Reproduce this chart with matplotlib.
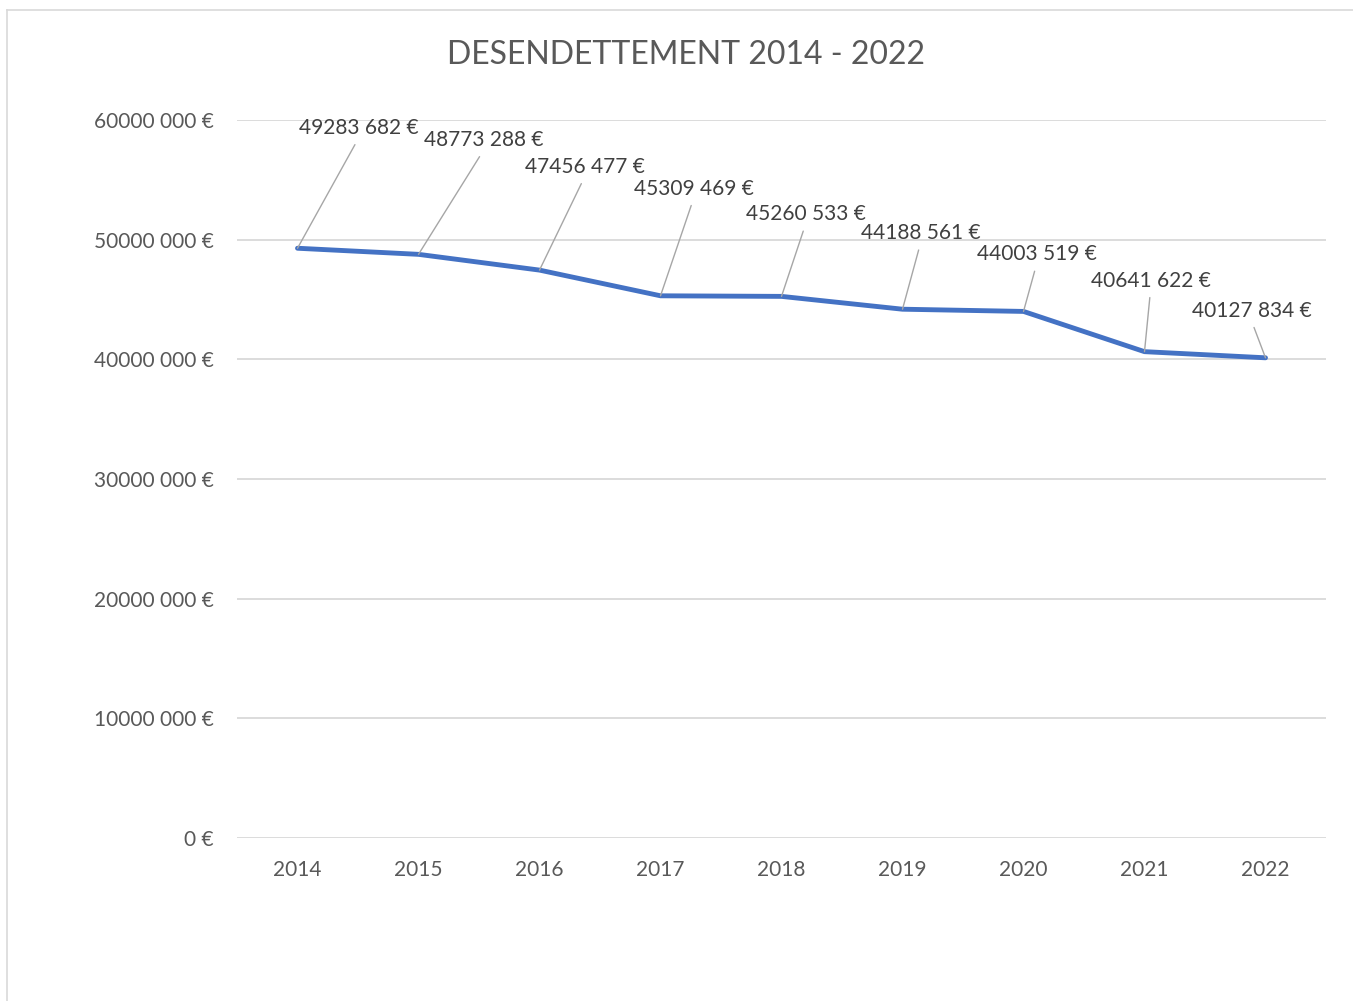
import matplotlib
matplotlib.use("Agg")
import matplotlib.pyplot as plt
from matplotlib.lines import Line2D

years = ["2014", "2015", "2016", "2017", "2018", "2019", "2020", "2021", "2022"]
dette = [49283682, 48773288, 47456477, 45309469, 45260533, 44188561, 44003519, 40641622, 40127834]
labels = ["49283 682 €", "48773 288 €", "47456 477 €", "45309 469 €", "45260 533 €",
          "44188 561 €", "44003 519 €", "40641 622 €", "40127 834 €"]
yticks = [0, 10000000, 20000000, 30000000, 40000000, 50000000, 60000000]
ytick_labels = ["0 €", "10000 000 €", "20000 000 €", "30000 000 €", "40000 000 €",
                "50000 000 €", "60000 000 €"]
# label offsets in pixels (dx, dy) from the point
offsets = [(61, 120), (65, 114), (45, 103), (33, 107), (24, 82), (18, 76), (13, 57), (6, 71), (-14, 47)]

plt.rcParams['font.family'] = ['Lato', 'DejaVu Sans']
grey = '#595959'

fig = plt.figure(figsize=(13.53, 10.01), dpi=100)
ax = fig.add_axes([237 / 1353, 163 / 1001, 1089 / 1353, 718 / 1001])

x = list(range(len(years)))
ax.plot(x, dette, color='#4472C4', lw=3.5, solid_capstyle='round', zorder=3)

for xi, v, lab, (dx, dy) in zip(x, dette, labels, offsets):
    ax.annotate(lab, (xi, v), xytext=(dx, dy), textcoords='offset pixels',
                ha='center', va='center', fontsize=15, color='#404040',
                arrowprops=dict(arrowstyle='-', color='#A6A6A6', lw=1,
                                relpos=(0.5, 0), shrinkA=3, shrinkB=0))

ax.set_xlim(-0.5, 8.5)
ax.set_ylim(0, 60000000)
ax.set_xticks(x)
ax.set_xticklabels(years)
ax.set_yticks(yticks)
ax.set_yticklabels(ytick_labels)
ax.tick_params(axis='both', length=0, labelsize=15, labelcolor=grey)
ax.tick_params(axis='y', pad=17)
ax.tick_params(axis='x', pad=16)
ax.grid(axis='y', color='#D9D9D9', lw=1.3)
ax.set_axisbelow(True)
for s in ax.spines.values():
    s.set_visible(False)

fig.text(686 / 1353, 1 - 55 / 1001, "DESENDETTEMENT 2014 - 2022", ha='center', va='center',
         fontsize=23, color=grey)

# chart area border
fig.add_artist(Line2D([7 / 1353, 7 / 1353], [0, 1 - 10 / 1001], color='#D9D9D9', lw=1.2))
fig.add_artist(Line2D([7 / 1353, 1], [1 - 10 / 1001, 1 - 10 / 1001], color='#D9D9D9', lw=1.2))

fig.savefig("out.png", dpi=100, facecolor='white')
